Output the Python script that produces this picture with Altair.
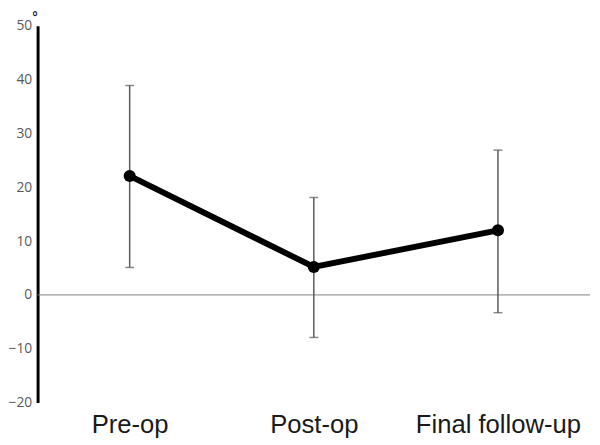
import altair as alt
import pandas as pd

categories = ["Pre-op", "Post-op", "Final follow-up"]
means = [22.1, 5.2, 12.0]
upper = [38.9, 18.1, 26.9]
lower = [5.1, -7.9, -3.3]
y_ticks = [-20, -10, 0, 10, 20, 30, 40, 50]

df = pd.DataFrame({"cat": categories, "mean": means, "hi": upper, "lo": lower})

W, H = 560, 382

xenc = alt.X("cat:N", sort=categories, title=None,
             scale=alt.Scale(type="point", padding=0.5),
             axis=alt.Axis(domain=False, ticks=False, labelAngle=0,
                           labelFont="Liberation Sans", labelFontSize=26,
                           labelColor="#1a1a1a", labelPadding=9))
yscale = alt.Scale(domain=[-20, 50], nice=False, zero=False)

zero = alt.Chart(pd.DataFrame({"z": [0]})).mark_rule(color="#808080", strokeWidth=1).encode(
    y=alt.Y("z:Q", scale=yscale,
            axis=alt.Axis(values=y_ticks, grid=False, ticks=False,
                          domainColor="#000000", domainWidth=3,
                          labelFont="Open Sans", labelFontSize=14,
                          labelColor="#595959", labelPadding=6,
                          title="°", titleAngle=0, titleX=-3, titleY=-15,
                          titleAlign="center", titleBaseline="top",
                          titleFont="Liberation Sans", titleFontSize=14,
                          titleFontWeight="bold", titleColor="#1a1a1a"))
)

base = alt.Chart(df)

bars = base.mark_rule(color="#595959", strokeWidth=1.5).encode(
    x=xenc, y=alt.Y("lo:Q", scale=yscale), y2="hi:Q")
cap_hi = base.mark_tick(color="#595959", thickness=1.5, size=9).encode(
    x=xenc, y=alt.Y("hi:Q", scale=yscale))
cap_lo = base.mark_tick(color="#595959", thickness=1.5, size=9).encode(
    x=xenc, y=alt.Y("lo:Q", scale=yscale))
line = base.mark_line(color="#000000", strokeWidth=6).encode(
    x=xenc, y=alt.Y("mean:Q", scale=yscale))
pts = base.mark_circle(color="#000000", opacity=1, size=150).encode(
    x=xenc, y=alt.Y("mean:Q", scale=yscale))

chart = alt.layer(zero, bars, cap_hi, cap_lo, line, pts).properties(
    width=W, height=H,
    background="white",
    autosize=alt.AutoSizeParams(type="none"),
    padding={"left": 30, "top": 15, "right": 2, "bottom": 40},
).configure_view(stroke=None, strokeWidth=0)

chart.save("out.html", embed_options={"renderer": "svg", "actions": False})
